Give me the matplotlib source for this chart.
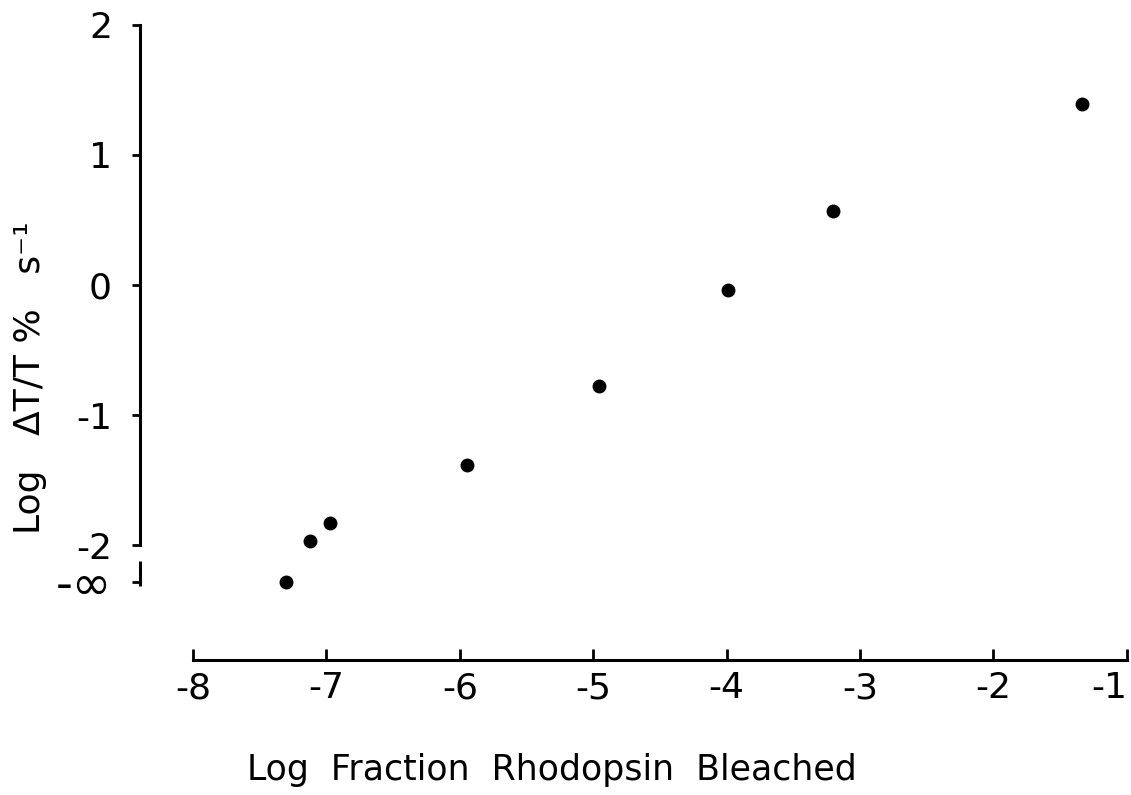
import matplotlib.pyplot as plt

# data (log units); -inf point drawn on the axis break
log_bleached = [-7.30, -7.12, -6.97, -5.95, -4.96, -3.99, -3.20, -1.34]
log_dT = [None, -1.97, -1.83, -1.38, -0.78, -0.04, 0.57, 1.39]
NEG_INF = -2.28   # where "-inf" sits below the break

xticks = [-8, -7, -6, -5, -4, -3, -2, -1]
xticklabels = ["-8", "-7", "-6", "-5", "-4", "-3", "-2", "-1"]
yticks = [2, 1, 0, -1, -2, NEG_INF]
yticklabels = ["2", "1", "0", "-1", "-2", "-\u221e"]

plt.rcParams['font.family'] = ['DejaVu Sans']

fig = plt.figure(figsize=(11.31, 7.95), dpi=100)
ax = fig.add_axes([0, 0, 1, 1])
ax.patch.set_alpha(0)

yv = [NEG_INF if v is None else v for v in log_dT]
ax.plot(log_bleached, yv, 'o', color='black', ms=9, clip_on=False)

ax.set_xlim(-9.447, -0.969)
ax.set_ylim(-3.92, 2.19)

for s in ['top', 'right']:
    ax.spines[s].set_visible(False)
ax.spines['left'].set_position(('data', -8.40))
ax.spines['left'].set_bounds(-2, 2)
ax.spines['bottom'].set_position(('data', -2.885))
ax.spines['bottom'].set_bounds(-8, -1)
for s in ['left', 'bottom']:
    ax.spines[s].set_linewidth(2.2)

# short axis piece below the break, for -inf
ax.plot([-8.40, -8.40], [-2.12, NEG_INF - 0.03], color='black', lw=2.2,
        solid_capstyle='butt', clip_on=False)

ax.set_xticks(xticks)
ax.set_xticklabels(xticklabels)
ax.set_yticks(yticks)
ax.set_yticklabels(yticklabels)
ax.tick_params(axis='x', direction='in', length=8, width=2, labelsize=26, pad=8)
ax.tick_params(axis='y', direction='out', length=6, width=2, labelsize=26, pad=14)

xl = ax.get_xticklabels()
xl[-1].set_horizontalalignment('right')
yl = ax.get_yticklabels()
yl[-1].set_fontsize(34)

fig.text(552 / 1131, 1 - 770 / 795, "Log  Fraction  Rhodopsin  Bleached",
         fontsize=25, ha='center', va='center')
fig.text(30 / 1131, 1 - 378 / 795, "Log   \u0394T/T %   s\u207b\u00b9",
         fontsize=26, ha='center', va='center', rotation=90)

fig.savefig("out.png", dpi=100)
